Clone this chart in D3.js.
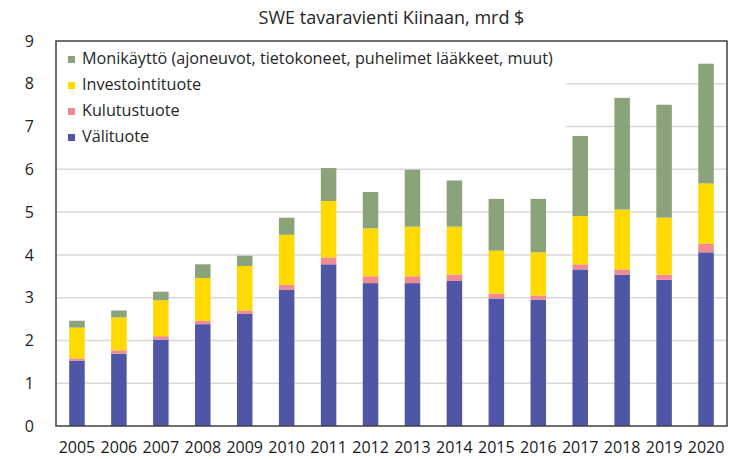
<!DOCTYPE html>
<html>
<head>
<meta charset="utf-8">
<script src="https://cdn.jsdelivr.net/npm/d3@7"></script>
<style>
  body { margin: 0; background: #fff; }
  svg { display: block; font-family: "Open Sans", sans-serif; }
</style>
</head>
<body>
<svg id="chart" width="745" height="459"></svg>
<script>
// SWE tavaravienti Kiinaan, mrd $
const years = ['2005', '2006', '2007', '2008', '2009', '2010', '2011', '2012',
               '2013', '2014', '2015', '2016', '2017', '2018', '2019', '2020'];

const valituote      = [1.53, 1.69, 2.02, 2.38, 2.62, 3.18, 3.78, 3.34, 3.34, 3.39, 2.98, 2.95, 3.66, 3.54, 3.42, 4.06];
const kulutustuote   = [0.05, 0.08, 0.08, 0.08, 0.08, 0.12, 0.16, 0.16, 0.16, 0.15, 0.11, 0.10, 0.12, 0.12, 0.12, 0.20];
const investointi    = [0.72, 0.77, 0.84, 1.00, 1.04, 1.17, 1.32, 1.12, 1.16, 1.12, 1.01, 1.01, 1.13, 1.40, 1.33, 1.41];
const monikaytto     = [0.16, 0.16, 0.20, 0.32, 0.24, 0.40, 0.77, 0.85, 1.33, 1.08, 1.21, 1.25, 1.87, 2.61, 2.64, 2.80];

const yTicks = [0, 1, 2, 3, 4, 5, 6, 7, 8, 9];

const seriesInfo = [
    { key: 'valituote',   label: 'Välituote',        color: '#4f56a6', values: valituote },
    { key: 'kulutus',     label: 'Kulutustuote',     color: '#f08b94', values: kulutustuote },
    { key: 'investointi', label: 'Investointituote', color: '#ffd900', values: investointi },
    { key: 'monikaytto',  label: 'Monikäyttö (ajoneuvot, tietokoneet, puhelimet lääkkeet, muut)', color: '#8ba37a', values: monikaytto }
];

const rows = years.map((y, i) => {
    const r = { year: y };
    seriesInfo.forEach(s => { r[s.key] = s.values[i]; });
    return r;
});

const svg = d3.select('#chart');
const margin = { top: 41, right: 18, bottom: 33, left: 56 };
const width = 745, height = 459;

const x = d3.scaleBand()
    .domain(years)
    .range([margin.left, width - margin.right])
    .paddingInner(0.63)
    .paddingOuter(0.315);

const y = d3.scaleLinear()
    .domain([0, 9])
    .range([height - margin.bottom, margin.top]);

// title
svg.append('text')
    .attr('x', (margin.left + width - margin.right) / 2)
    .attr('y', 24)
    .attr('text-anchor', 'middle')
    .attr('font-size', 18)
    .attr('fill', '#262626')
    .text('SWE tavaravienti Kiinaan, mrd $');

// gridlines
svg.append('g')
    .selectAll('line')
    .data(yTicks.filter(t => t > 0 && t < 9))
    .join('line')
    .attr('x1', margin.left)
    .attr('x2', width - margin.right)
    .attr('y1', d => y(d))
    .attr('y2', d => y(d))
    .attr('stroke', '#d9d9d9')
    .attr('stroke-width', 1.5);

// stacked bars
const stack = d3.stack().keys(seriesInfo.map(s => s.key));
const stacked = stack(rows);

svg.append('g')
    .selectAll('g')
    .data(stacked)
    .join('g')
    .attr('fill', (d, i) => seriesInfo[i].color)
    .selectAll('rect')
    .data(d => d)
    .join('rect')
    .attr('x', d => x(d.data.year))
    .attr('width', x.bandwidth())
    .attr('y', d => y(d[1]))
    .attr('height', d => y(d[0]) - y(d[1]));

// legend (white box covering gridlines)
const legend = svg.append('g');
legend.append('rect')
    .attr('x', margin.left)
    .attr('y', margin.top)
    .attr('width', 510)
    .attr('height', 110)
    .attr('fill', '#fff');

const legendOrder = seriesInfo.slice().reverse();
legendOrder.forEach((s, i) => {
    const cy = 58 + i * 26;
    legend.append('rect')
        .attr('x', 68)
        .attr('y', cy - 2)
        .attr('width', 7)
        .attr('height', 7)
        .attr('fill', s.color);
    legend.append('text')
        .attr('x', 82)
        .attr('y', cy)
        .attr('dy', '0.35em')
        .attr('font-size', 16.2)
        .attr('fill', '#262626')
        .text(s.label);
});

// y axis labels
const yAxis = d3.axisLeft(y).tickValues(yTicks).tickSize(0).tickPadding(0);
svg.append('g')
    .attr('transform', `translate(${margin.left - 22},0)`)
    .call(yAxis)
    .call(g => g.select('.domain').remove())
    .selectAll('text')
    .attr('font-size', 16)
    .attr('font-family', '"Open Sans", sans-serif')
    .attr('fill', '#222');

// x axis labels
const xAxis = d3.axisBottom(x).tickSize(0).tickPadding(0);
svg.append('g')
    .attr('transform', `translate(0,${height - margin.bottom + 16})`)
    .call(xAxis)
    .call(g => g.select('.domain').remove())
    .selectAll('text')
    .attr('font-size', 16)
    .attr('font-family', '"Open Sans", sans-serif')
    .attr('fill', '#1a1a1a');

// plot frame
svg.append('rect')
    .attr('x', margin.left)
    .attr('y', margin.top)
    .attr('width', width - margin.right - margin.left)
    .attr('height', height - margin.bottom - margin.top)
    .attr('fill', 'none')
    .attr('stroke', '#404040')
    .attr('stroke-width', 1.5);
</script>
</body>
</html>
